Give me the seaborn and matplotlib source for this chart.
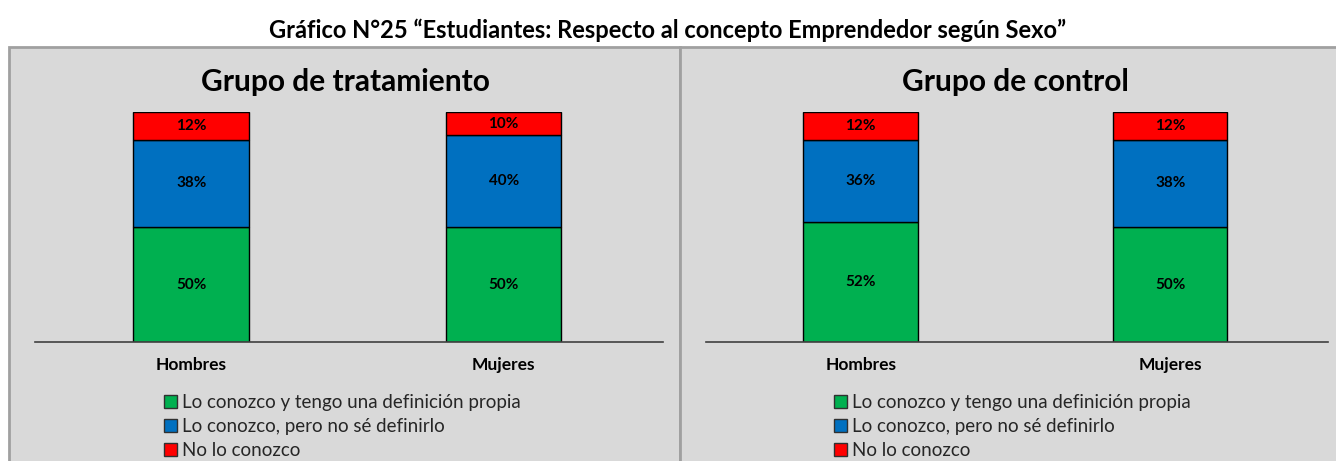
import matplotlib
matplotlib.use("Agg")
import matplotlib.pyplot as plt
from matplotlib.patches import Rectangle
import seaborn as sns
import pandas as pd

sns.set_theme(style="white")
plt.rcParams['font.family'] = ['Lato', 'DejaVu Sans']

# ---- data ----
sexes = ["Hombres", "Mujeres"]
series_names = ["Lo conozco y tengo una definición propia",
                "Lo conozco, pero no sé definirlo",
                "No lo conozco"]
tratamiento_def = [50, 50]
tratamiento_nodef = [38, 40]
tratamiento_no = [12, 10]
control_def = [52, 50]
control_nodef = [36, 38]
control_no = [12, 12]
colors = ["#00B050", "#0070C0", "#FF0000"]

panel_titles = ["Grupo de tratamiento", "Grupo de control"]
main_title = "Gráfico N°25 “Estudiantes: Respecto al concepto Emprendedor según Sexo”"

W, H = 1336, 461
fig = plt.figure(figsize=(W / 100, H / 100), dpi=100)
fig.patch.set_facecolor("white")

def fx(px):
    return px / W

def fy(py):
    return 1 - py / H

# panel backgrounds
bg = "#D9D9D9"
edge = "#A0A0A0"
for left, width in [(9, 671), (680, 670)]:
    r = Rectangle((fx(left), fy(475)), fx(width), fy(47) - fy(475),
                  transform=fig.transFigure, facecolor=bg,
                  edgecolor=edge, linewidth=2, zorder=-5)
    fig.patches.append(r)

fig.text(0.5, fy(30), main_title, ha="center", va="center",
         fontsize=17, fontweight="bold", color="black")

panels = [
    (tratamiento_def, tratamiento_nodef, tratamiento_no, 35, 663, panel_titles[0], 345, 165),
    (control_def, control_nodef, control_no, 706, 1328, panel_titles[1], 1015, 835),
]

for d1, d2, d3, x0, x1, title, tcx, legx in panels:
    ax = fig.add_axes([fx(x0), fy(342), fx(x1 - x0), fy(112) - fy(342)])
    ax.set_facecolor("none")
    ax.set_zorder(2)
    df = pd.DataFrame({"Sexo": sexes, "a": d1, "b": d2, "c": d3})
    bottoms = [[0, 0], list(d1), [a + b for a, b in zip(d1, d2)]]
    for col, color, bot, name in zip(["a", "b", "c"], colors, bottoms, series_names):
        sns.barplot(data=df, x="Sexo", y=col, ax=ax, color=color, bottom=bot,
                    width=0.37, edgecolor="black", linewidth=1.0,
                    saturation=1, label=name)
    for cont in ax.containers:
        for rect in cont:
            h = rect.get_height()
            ax.text(rect.get_x() + rect.get_width() / 2,
                    rect.get_y() + h / 2, f"{h:.0f}%",
                    ha="center", va="center", fontsize=11,
                    fontweight="bold", color="black")
    ax.set_xlim(-0.5, 1.51)
    ax.set_ylim(0, 100)
    ax.set_ylabel("")
    ax.set_xlabel("")
    ax.set_yticks([])
    for s in ["top", "right", "left"]:
        ax.spines[s].set_visible(False)
    ax.spines["bottom"].set_color("#404040")
    ax.spines["bottom"].set_linewidth(1.2)
    ax.tick_params(axis="x", length=0, pad=11)
    for lab in ax.get_xticklabels():
        lab.set_fontweight("bold")
        lab.set_fontsize(12.5)
        lab.set_color("black")
    leg = ax.get_legend()
    if leg is not None:
        leg.remove()
    fig.text(fx(tcx), fy(82), title, ha="center", va="center",
             fontsize=21.5, fontweight="bold", color="black")
    handles = [Rectangle((0, 0), 1, 1, facecolor=c, edgecolor="#303030", linewidth=1)
               for c in colors]
    fig.legend(handles, series_names, loc="upper left",
               bbox_to_anchor=(fx(legx - 1), fy(394)),
               frameon=False, fontsize=13.5, handlelength=0.7, handleheight=0.7,
               handletextpad=0.25, labelspacing=0.38, borderaxespad=0,
               borderpad=0)

fig.savefig("out.png", dpi=100, facecolor="white")
